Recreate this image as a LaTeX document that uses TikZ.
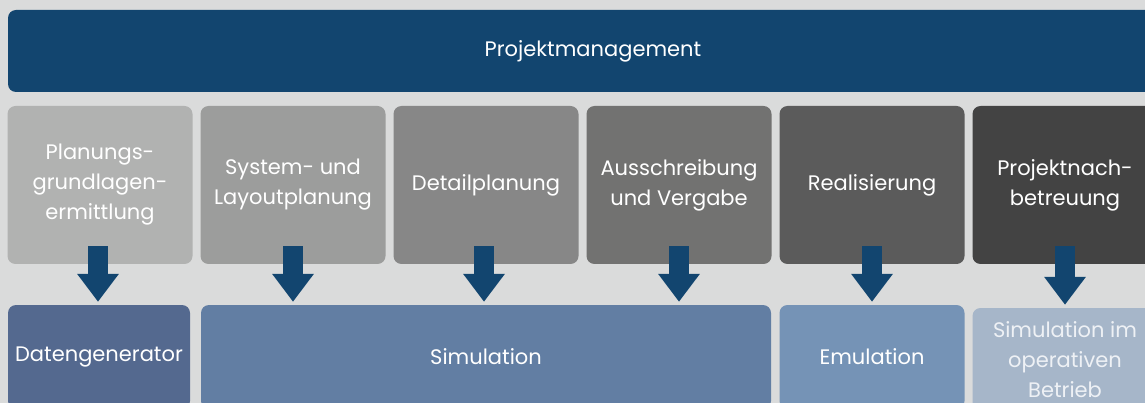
\documentclass[tikz,border=0pt]{standalone}
\usepackage{fontspec}
\setmainfont{Poppins}
\usetikzlibrary{arrows.meta}

\definecolor{bgGray}{HTML}{DADBDB}
\definecolor{pmBlue}{HTML}{12456F}
\definecolor{phaseA}{HTML}{B1B2B1}
\definecolor{phaseB}{HTML}{9C9D9C}
\definecolor{phaseC}{HTML}{878787}
\definecolor{phaseD}{HTML}{727271}
\definecolor{phaseE}{HTML}{5B5B5B}
\definecolor{phaseF}{HTML}{434343}
\definecolor{toolA}{HTML}{54698F}
\definecolor{toolB}{HTML}{627EA3}
\definecolor{toolC}{HTML}{7593B6}
\definecolor{toolD}{HTML}{A6B6C9}
\definecolor{paleText}{HTML}{EEF1F5}

\newcommand{\boxfont}{\fontsize{21}{30}\selectfont}

\tikzset{
  box/.style={rounded corners=8pt, inner sep=0pt, text=white, align=center, font=\boxfont},
  phase/.style={box, minimum width=185pt, minimum height=158pt},
  tool/.style={box, minimum height=104pt},
  flow/.style={draw=pmBlue, line width=20pt, shorten >=3pt,
    -{Triangle[length=28pt,width=40pt]}}
}

\begin{document}
\begin{tikzpicture}[x=1pt,y=-1pt]
  \useasboundingbox (0,0) rectangle (1145,403);
  \clip (0,0) rectangle (1145,403);
  \fill[bgGray] (0,0) rectangle (1145,403);

  % management bar
  \node[box, fill=pmBlue, minimum width=1170pt, minimum height=82pt] (pm) at (593,51) {Projektmanagement};

  % phases
  \node[phase, fill=phaseA] (p1) at (100,185) {Planungs-\\grundlagen-\\ermittlung};
  \node[phase, fill=phaseB] (p2) at (293,185) {System- und\\Layoutplanung};
  \node[phase, fill=phaseC] (p3) at (486,185) {Detailplanung};
  \node[phase, fill=phaseD] (p4) at (679,185) {Ausschreibung\\und Vergabe};
  \node[phase, fill=phaseE] (p5) at (872,185) {Realisierung};
  \node[phase, fill=phaseF] (p6) at (1065,185) {Projektnach-\\betreuung};

  % tools
  \node[tool, fill=toolA, minimum width=182pt] (t1) at (99,357) {Datengenerator};
  \node[tool, fill=toolB, minimum width=570pt] (t2) at (486,357) {Simulation};
  \node[tool, fill=toolC, minimum width=185pt] (t3) at (872,357) {Emulation};
  \node[tool, fill=toolD, minimum width=185pt, text=paleText] (t4) at (1065,360) {Simulation im\\operativen\\Betrieb};

  % arrows
  \draw[flow] ([xshift=-2pt,yshift=18pt]p1.south) -- ([xshift=-2pt]p1.south |- t1.north);
  \draw[flow] ([yshift=18pt]p2.south) -- (p2.south |- t2.north);
  \draw[flow] ([xshift=-2pt,yshift=18pt]p3.south) -- ([xshift=-2pt]p3.south |- t2.north);
  \draw[flow] ([yshift=18pt]p4.south) -- (p4.south |- t2.north);
  \draw[flow] ([yshift=18pt]p5.south) -- (p5.south |- t3.north);
  \draw[flow] ([yshift=18pt]p6.south) -- (p6.south |- t4.north);
\end{tikzpicture}
\end{document}
